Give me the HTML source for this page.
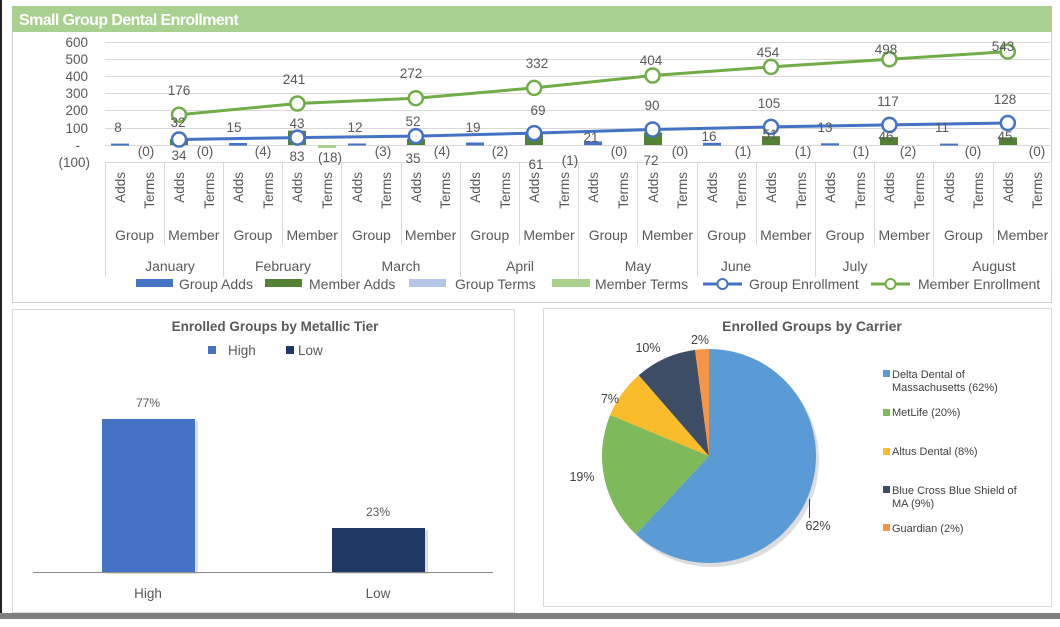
<!DOCTYPE html>
<html><head><meta charset="utf-8"><style>
html,body{margin:0;padding:0;background:#fff;}
svg{display:block;font-family:"Liberation Sans",Arial,sans-serif;}
</style></head><body>
<svg width="1060" height="627" viewBox="0 0 1060 627" xmlns="http://www.w3.org/2000/svg">
<rect x="0" y="0" width="1060" height="627" fill="#fff"/>
<rect x="0" y="0" width="2" height="615" fill="#222"/>
<rect x="0" y="613" width="1060" height="6" fill="#7f7f7f"/>
<!-- top panel -->
<rect x="12.5" y="6.5" width="1039" height="296" fill="#fff" stroke="#d0d0d0"/>
<rect x="12" y="6" width="1040" height="26" fill="#a9d08e"/>
<text x="19" y="25" font-size="16" font-weight="bold" fill="#fff" letter-spacing="-0.6">Small Group Dental Enrollment</text>
<g stroke="#d9d9d9" stroke-width="1">
<line x1="105" y1="42.5" x2="1050" y2="42.5"/><line x1="105" y1="59.5" x2="1050" y2="59.5"/>
<line x1="105" y1="76.5" x2="1050" y2="76.5"/><line x1="105" y1="93.5" x2="1050" y2="93.5"/>
<line x1="105" y1="110.5" x2="1050" y2="110.5"/><line x1="105" y1="128.5" x2="1050" y2="128.5"/>
<line x1="105" y1="145.5" x2="1050" y2="145.5"/><line x1="105" y1="162.5" x2="1050" y2="162.5"/>
</g>
<g font-size="13.5" fill="#595959" text-anchor="end">
<text x="88" y="47">600</text><text x="88" y="64">500</text><text x="88" y="81">400</text>
<text x="88" y="98">300</text><text x="88" y="115">200</text><text x="88" y="133">100</text>
<text x="80" y="150">-</text><text x="90" y="167">(100)</text>
</g>
<!-- category separators -->
<g stroke="#d9d9d9" stroke-width="1">
<line x1="105.5" y1="162" x2="105.5" y2="277"/><line x1="164.5" y1="162" x2="164.5" y2="245"/>
<line x1="223.5" y1="162" x2="223.5" y2="277"/><line x1="282.5" y1="162" x2="282.5" y2="245"/>
<line x1="341.5" y1="162" x2="341.5" y2="277"/><line x1="401.5" y1="162" x2="401.5" y2="245"/>
<line x1="460.5" y1="162" x2="460.5" y2="277"/><line x1="519.5" y1="162" x2="519.5" y2="245"/>
<line x1="578.5" y1="162" x2="578.5" y2="277"/><line x1="637.5" y1="162" x2="637.5" y2="245"/>
<line x1="697.5" y1="162" x2="697.5" y2="277"/><line x1="756.5" y1="162" x2="756.5" y2="245"/>
<line x1="815.5" y1="162" x2="815.5" y2="277"/><line x1="874.5" y1="162" x2="874.5" y2="245"/>
<line x1="933.5" y1="162" x2="933.5" y2="277"/><line x1="993.5" y1="162" x2="993.5" y2="245"/>
<line x1="1051.5" y1="162" x2="1051.5" y2="277"/>
</g>
<!-- rotated labels -->
<g font-size="13.5" fill="#595959" text-anchor="end">
<text transform="translate(125,172) rotate(-90)">Adds</text><text transform="translate(154,172) rotate(-90)">Terms</text>
<text transform="translate(184,172) rotate(-90)">Adds</text><text transform="translate(214,172) rotate(-90)">Terms</text>
<text transform="translate(243,172) rotate(-90)">Adds</text><text transform="translate(273,172) rotate(-90)">Terms</text>
<text transform="translate(302,172) rotate(-90)">Adds</text><text transform="translate(332,172) rotate(-90)">Terms</text>
<text transform="translate(362,172) rotate(-90)">Adds</text><text transform="translate(391,172) rotate(-90)">Terms</text>
<text transform="translate(421,172) rotate(-90)">Adds</text><text transform="translate(450,172) rotate(-90)">Terms</text>
<text transform="translate(480,172) rotate(-90)">Adds</text><text transform="translate(510,172) rotate(-90)">Terms</text>
<text transform="translate(539,172) rotate(-90)">Adds</text><text transform="translate(569,172) rotate(-90)">Terms</text>
<text transform="translate(598,172) rotate(-90)">Adds</text><text transform="translate(628,172) rotate(-90)">Terms</text>
<text transform="translate(658,172) rotate(-90)">Adds</text><text transform="translate(687,172) rotate(-90)">Terms</text>
<text transform="translate(717,172) rotate(-90)">Adds</text><text transform="translate(746,172) rotate(-90)">Terms</text>
<text transform="translate(776,172) rotate(-90)">Adds</text><text transform="translate(806,172) rotate(-90)">Terms</text>
<text transform="translate(835,172) rotate(-90)">Adds</text><text transform="translate(865,172) rotate(-90)">Terms</text>
<text transform="translate(894,172) rotate(-90)">Adds</text><text transform="translate(924,172) rotate(-90)">Terms</text>
<text transform="translate(954,172) rotate(-90)">Adds</text><text transform="translate(983,172) rotate(-90)">Terms</text>
<text transform="translate(1013,172) rotate(-90)">Adds</text><text transform="translate(1042,172) rotate(-90)">Terms</text>
</g>
<g font-size="14" fill="#595959" text-anchor="middle">
<text x="134.6" y="240">Group</text><text x="193.8" y="240">Member</text>
<text x="253" y="240">Group</text><text x="312.2" y="240">Member</text>
<text x="371.4" y="240">Group</text><text x="430.6" y="240">Member</text>
<text x="489.8" y="240">Group</text><text x="549" y="240">Member</text>
<text x="608.2" y="240">Group</text><text x="667.4" y="240">Member</text>
<text x="726.6" y="240">Group</text><text x="785.8" y="240">Member</text>
<text x="845" y="240">Group</text><text x="904.2" y="240">Member</text>
<text x="963.4" y="240">Group</text><text x="1022.6" y="240">Member</text>
<text x="170" y="271">January</text><text x="283" y="271">February</text>
<text x="401" y="271">March</text><text x="520" y="271">April</text>
<text x="638" y="271">May</text><text x="736" y="271">June</text>
<text x="855" y="271">July</text><text x="994" y="271">August</text>
</g>
<!-- bars -->
<g fill="#4472c4">
<rect x="111" y="143.6" width="18" height="2"/><rect x="229" y="143" width="18" height="2.6"/>
<rect x="348" y="143.5" width="18" height="2"/><rect x="466" y="142.5" width="18" height="3"/>
<rect x="584" y="141.5" width="18" height="3.6"/><rect x="703" y="142.8" width="18" height="2.8"/>
<rect x="821" y="143.3" width="18" height="2.2"/><rect x="940" y="143.6" width="18" height="2"/>
</g>
<g fill="#548235">
<rect x="170" y="139.2" width="18" height="5.8"/><rect x="288" y="130.7" width="18" height="14.3"/>
<rect x="407" y="139" width="18" height="6"/><rect x="525" y="134.5" width="18" height="10.5"/>
<rect x="644" y="132.6" width="18" height="12.4"/><rect x="762" y="136.2" width="18" height="8.8"/>
<rect x="880" y="137.1" width="18" height="7.9"/><rect x="999" y="137.3" width="18" height="7.7"/>
</g>
<rect x="318" y="145" width="18" height="3" fill="#a9d18e"/>
<!-- lines -->
<polyline fill="none" stroke="#70ad47" stroke-width="3" points="179,114.7 297.4,103.5 415.8,98.2 534.2,87.9 652.6,75.5 771,66.9 889.4,59.3 1007.8,51.6"/>
<polyline fill="none" stroke="#4472c4" stroke-width="3" points="179,139.5 297.4,137.6 415.8,136.1 534.2,133.1 652.6,129.5 771,126.9 889.4,124.9 1007.8,123"/>
<g fill="#fff" stroke="#70ad47" stroke-width="2.5">
<circle cx="179" cy="114.7" r="7"/><circle cx="297.4" cy="103.5" r="7"/><circle cx="415.8" cy="98.2" r="7"/><circle cx="534.2" cy="87.9" r="7"/>
<circle cx="652.6" cy="75.5" r="7"/><circle cx="771" cy="66.9" r="7"/><circle cx="889.4" cy="59.3" r="7"/><circle cx="1007.8" cy="51.6" r="7"/>
</g>
<g fill="#fff" stroke="#4472c4" stroke-width="2.5">
<circle cx="179" cy="139.5" r="7"/><circle cx="297.4" cy="137.6" r="7"/><circle cx="415.8" cy="136.1" r="7"/><circle cx="534.2" cy="133.1" r="7"/>
<circle cx="652.6" cy="129.5" r="7"/><circle cx="771" cy="126.9" r="7"/><circle cx="889.4" cy="124.9" r="7"/><circle cx="1007.8" cy="123" r="7"/>
</g>
<!-- data labels -->
<g font-size="13.5" fill="#595959" text-anchor="middle">
<text x="118" y="132">8</text><text x="146" y="156">(0)</text><text x="179" y="160">34</text><text x="205" y="156">(0)</text><text x="178" y="127">32</text><text x="179" y="95">176</text>
<text x="234" y="132">15</text><text x="263" y="156">(4)</text><text x="297" y="161">83</text><text x="330" y="162">(18)</text><text x="297" y="128">43</text><text x="294" y="84">241</text>
<text x="355" y="132">12</text><text x="383" y="156">(3)</text><text x="413" y="163">35</text><text x="442" y="156">(4)</text><text x="413" y="126">52</text><text x="411" y="78">272</text>
<text x="473" y="132">19</text><text x="500" y="156">(2)</text><text x="536" y="169">61</text><text x="570" y="165">(1)</text><text x="538" y="115">69</text><text x="537" y="68">332</text>
<text x="591" y="142">21</text><text x="619" y="156">(0)</text><text x="651" y="165">72</text><text x="680" y="156">(0)</text><text x="652" y="110">90</text><text x="651" y="65">404</text>
<text x="709" y="141">16</text><text x="743" y="156">(1)</text><text x="770" y="139">51</text><text x="803" y="156">(1)</text><text x="769" y="108">105</text><text x="768" y="57">454</text>
<text x="825" y="132">13</text><text x="861" y="156">(1)</text><text x="886" y="141">46</text><text x="908" y="156">(2)</text><text x="888" y="106">117</text><text x="886" y="54">498</text>
<text x="942" y="132">11</text><text x="973" y="156">(0)</text><text x="1005" y="141">45</text><text x="1037" y="156">(0)</text><text x="1005" y="104">128</text><text x="1003" y="51">543</text>
</g>
<!-- legend -->
<g font-size="14" fill="#595959">
<rect x="136" y="279" width="37" height="8" fill="#4472c4"/><text x="179" y="289">Group Adds</text>
<rect x="265" y="279" width="37" height="8" fill="#548235"/><text x="309" y="289">Member Adds</text>
<rect x="409" y="279" width="37" height="8" fill="#b4c7e7"/><text x="455" y="289">Group Terms</text>
<rect x="552" y="279" width="38" height="8" fill="#a9d18e"/><text x="595" y="289">Member Terms</text>
<line x1="703" y1="284" x2="742" y2="284" stroke="#4472c4" stroke-width="3"/><circle cx="722.5" cy="284" r="5" fill="#fff" stroke="#4472c4" stroke-width="2"/><text x="749" y="289">Group Enrollment</text>
<line x1="871" y1="284" x2="910" y2="284" stroke="#70ad47" stroke-width="3"/><circle cx="890.5" cy="284" r="5" fill="#fff" stroke="#70ad47" stroke-width="2"/><text x="918" y="289">Member Enrollment</text>
</g>
<!-- bottom left panel -->
<rect x="12.5" y="309.5" width="502" height="303" fill="#fff" stroke="#d9d9d9"/>
<text x="275" y="331" font-size="13.5" font-weight="bold" fill="#595959" text-anchor="middle">Enrolled Groups by Metallic Tier</text>
<rect x="208" y="346" width="8" height="8" fill="#4472c4"/><text x="228" y="355" font-size="13.5" fill="#595959">High</text>
<rect x="286" y="346" width="8" height="8" fill="#203864"/><text x="298" y="355" font-size="13.5" fill="#595959">Low</text>
<rect x="105" y="421" width="93" height="153" fill="#bbb" opacity="0.5"/>
<rect x="335" y="530" width="93" height="44" fill="#bbb" opacity="0.5"/>
<rect x="102" y="419" width="93" height="153" fill="#4472c4"/>
<rect x="332" y="528" width="93" height="44" fill="#203864"/>
<line x1="33" y1="572.5" x2="493" y2="572.5" stroke="#8c8c8c" stroke-width="1"/>
<g font-size="12" fill="#595959" text-anchor="middle">
<text x="148" y="407">77%</text><text x="378" y="516">23%</text>
</g>
<g font-size="13.5" fill="#595959" text-anchor="middle">
<text x="148" y="598">High</text><text x="378" y="598">Low</text>
</g>
<!-- bottom right panel -->
<rect x="543.5" y="308.5" width="508" height="298" fill="#fff" stroke="#d9d9d9"/>
<text x="812" y="331" font-size="14" font-weight="bold" fill="#595959" text-anchor="middle">Enrolled Groups by Carrier</text>
<circle cx="712" cy="460" r="107" fill="#aaa" opacity="0.4"/>
<g transform="translate(709,456)">
<path d="M0,0 L0,-107 A107,107 0 1 1 -72.98,78.25 Z" fill="#5b9bd5"/>
<path d="M0,0 L-72.98,78.25 A107,107 0 0 1 -98.85,-40.95 Z" fill="#7fba5a"/>
<path d="M0,0 L-98.85,-40.95 A107,107 0 0 1 -70.2,-80.75 Z" fill="#fbbc2b"/>
<path d="M0,0 L-70.2,-80.75 A107,107 0 0 1 -13.97,-106.1 Z" fill="#3e4d66"/>
<path d="M0,0 L-13.97,-106.1 A107,107 0 0 1 0,-107 Z" fill="#f79546"/>
</g>
<line x1="809.5" y1="499" x2="809.5" y2="518" stroke="#404040" stroke-width="1"/>
<g font-size="12.5" fill="#404040" text-anchor="middle">
<text x="700" y="344">2%</text><text x="648" y="352">10%</text><text x="610" y="403">7%</text>
<text x="582" y="481">19%</text><text x="818" y="530">62%</text>
</g>
<g font-size="11" fill="#404040">
<rect x="883" y="370" width="7" height="7" fill="#5b9bd5"/><text x="892" y="378">Delta Dental of</text><text x="892" y="391">Massachusetts (62%)</text>
<rect x="883" y="409" width="7" height="7" fill="#7fba5a"/><text x="892" y="416">MetLife (20%)</text>
<rect x="883" y="448" width="7" height="7" fill="#fbbc2b"/><text x="892" y="455">Altus Dental (8%)</text>
<rect x="883" y="486" width="7" height="7" fill="#3e4d66"/><text x="892" y="494">Blue Cross Blue Shield of</text><text x="892" y="507">MA (9%)</text>
<rect x="883" y="524" width="7" height="7" fill="#f79546"/><text x="892" y="532">Guardian (2%)</text>
</g>
</svg>
</body></html>
